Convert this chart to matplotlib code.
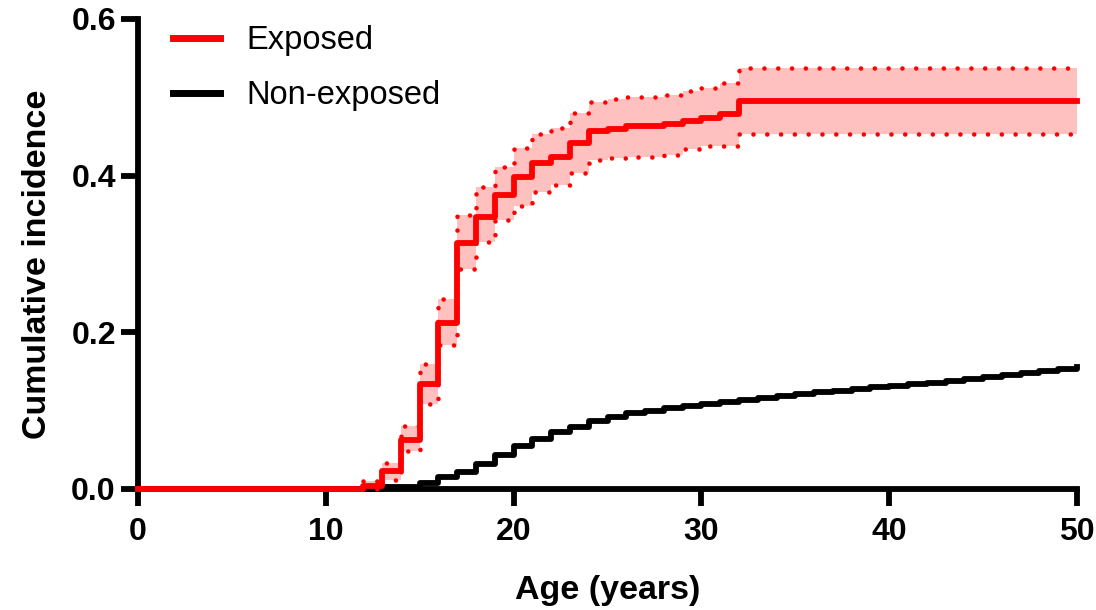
import matplotlib
matplotlib.use("Agg")
import matplotlib.pyplot as plt

plt.rcParams['font.family'] = ['Liberation Sans', 'DejaVu Sans']

# Cumulative incidence by age, exposed group (with 95% CI)
exp_age = [0, 12, 13, 14, 15, 16, 17, 18, 19, 20, 21, 22, 23, 24, 25, 26, 27, 28, 29, 30, 31, 32, 50]
exp_ci = [0.0, 0.004, 0.023, 0.062, 0.134, 0.2115, 0.3145, 0.347, 0.3753, 0.398, 0.4158, 0.4243,
          0.4413, 0.4574, 0.460, 0.4634, 0.4634, 0.4656, 0.470, 0.474, 0.4784, 0.4953, 0.4953]

ci_age = [12, 13, 14, 15, 16, 17, 18, 19, 20, 21, 22, 23, 24, 25, 26, 27, 28, 29, 30, 31, 32, 50]
exp_upper = [0.010, 0.0336, 0.080, 0.1596, 0.2426, 0.3498, 0.385, 0.411, 0.4353, 0.4532, 0.461,
             0.480, 0.4944, 0.4983, 0.5008, 0.501, 0.503, 0.508, 0.512, 0.518, 0.538, 0.538]
exp_lower = [0.0, 0.0115, 0.0485, 0.1085, 0.1838, 0.2809, 0.3153, 0.3434, 0.3613, 0.379, 0.388,
             0.4034, 0.420, 0.4226, 0.4238, 0.4238, 0.4264, 0.434, 0.4379, 0.438, 0.453, 0.453]

# Non-exposed group
non_age = [0, 13, 15, 16, 17, 18, 19, 20, 21, 22, 23, 24, 25, 26, 27, 28, 29, 30, 31, 32,
           33, 34, 35, 36, 37, 38, 39, 40, 41, 42, 43, 44, 45, 46, 47, 48, 49, 50]
non_ci = [0.0, 0.003, 0.008, 0.015, 0.022, 0.032, 0.043, 0.055, 0.064, 0.073, 0.0795, 0.087,
          0.092, 0.097, 0.100, 0.103, 0.106, 0.109, 0.111, 0.1136, 0.1158, 0.1187, 0.1213,
          0.1234, 0.1255, 0.1273, 0.1298, 0.1319, 0.1337, 0.1357, 0.1379, 0.1404, 0.1430,
          0.1455, 0.1481, 0.151, 0.1532, 0.1557]

x_ticks = [0, 10, 20, 30, 40, 50]
y_ticks = [0.0, 0.2, 0.4, 0.6]

red = '#ff0000'
pink = '#ffc0c0'
dots = (0, (0.01, 3.0))

fig = plt.figure(figsize=(10.96, 6.10), dpi=100)
ax = fig.add_axes([138 / 1096, 1 - 489 / 610, (1077 - 138) / 1096, (489 - 19) / 610])

ax.step(non_age, non_ci, where='post', color='black', lw=4.2, zorder=3,
        clip_on=False, label='Non-exposed')
ax.fill_between(ci_age, exp_lower, exp_upper, step='post', color=pink, lw=0, zorder=2)
ax.step(ci_age, exp_upper, where='post', color=red, lw=3.3, linestyle=dots,
        dash_capstyle='round', zorder=3, clip_on=False)
ax.step(ci_age, exp_lower, where='post', color=red, lw=3.3, linestyle=dots,
        dash_capstyle='round', zorder=3, clip_on=False)
ax.step(exp_age, exp_ci, where='post', color=red, lw=4.2, zorder=4,
        clip_on=False, label='Exposed')

ax.set_xlim(0, 50)
ax.set_ylim(0, 0.6)
ax.set_xticks(x_ticks)
ax.set_yticks(y_ticks)
ax.set_yticklabels([f"{v:.1f}" for v in y_ticks])

for side in ['top', 'right']:
    ax.spines[side].set_visible(False)
for side in ['left', 'bottom']:
    ax.spines[side].set_linewidth(4.2)
    ax.spines[side].set_capstyle('projecting')

ax.tick_params(axis='both', width=4.2, length=12, labelsize=23)
ax.tick_params(axis='x', pad=8)
ax.tick_params(axis='y', pad=4)
for lab in ax.get_xticklabels() + ax.get_yticklabels():
    lab.set_fontweight('bold')

ax.set_xlabel("Age (years)", fontsize=24.5, fontweight='bold', labelpad=20)
ax.set_ylabel("Cumulative incidence", fontsize=24.5, fontweight='bold')
ax.yaxis.set_label_coords(-0.09, 0.477)

handles, labels = ax.get_legend_handles_labels()
leg = ax.legend(handles[::-1], labels[::-1], loc='upper left',
                bbox_to_anchor=(173 / 1096, 1 - 25 / 610), bbox_transform=fig.transFigure,
                frameon=False, fontsize=23.5, handlelength=1.45, handletextpad=0.8,
                labelspacing=0.75, borderpad=0, borderaxespad=0)
for line in leg.get_lines():
    line.set_linewidth(5)

fig.savefig("out.png", dpi=100)
